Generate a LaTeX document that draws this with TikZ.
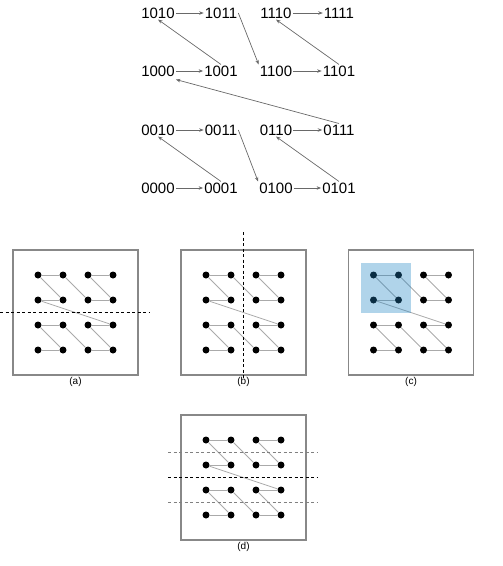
\documentclass[tikz,border=0pt]{standalone}
\usepackage{fontspec}
\setmainfont{Liberation Sans}
\usetikzlibrary{arrows.meta,positioning,calc}
\definecolor{frameg}{RGB}{136,136,136}
\definecolor{lineg}{RGB}{170,170,170}
\definecolor{arrg}{RGB}{105,105,105}
\definecolor{blk}{RGB}{29,131,194}

\tikzset{
  bits/.style={inner sep=1pt, font=\fontsize{15}{15}\selectfont},
  zarr/.style={draw=arrg, line width=0.7pt, -{Stealth[length=4.5pt,width=3.5pt]}},
  dot/.style={circle, fill=black, inner sep=0pt, minimum size=7pt},
  zline/.style={draw=lineg, line width=0.8pt},
  frame/.style={draw=frameg, line width=1.6pt, minimum size=125pt, inner sep=0pt},
  cut/.style={dash pattern=on 3pt off 2.5pt, line width=0.7pt},
  sub/.style={font=\fontsize{10}{10}\selectfont, inner sep=1pt}
}

% griglia z-order: #1 nome, (#2,#3) primo punto in alto a sinistra
\newcommand\zgrid[3]{
  \foreach \i in {0,...,15}{
    \pgfmathtruncatemacro\cc{mod(\i,2)+2*mod(floor(\i/4),2)}
    \pgfmathtruncatemacro\rr{3-mod(floor(\i/2),2)-2*floor(\i/8)}
    \node[dot] (#1-\i) at (#2+25*\cc,#3+25*\rr) {};
  }
  \foreach \i in {0,...,14}{
    \pgfmathtruncatemacro\j{\i+1}
    \draw[zline] (#1-\i) -- (#1-\j);
  }
}

\begin{document}
\begin{tikzpicture}[x=1pt,y=-1pt]
  \useasboundingbox (0,0) rectangle (503,566);
  % etichette binarie
  \foreach \lab/\x/\y in {1010/158/13, 1011/221/13, 1110/276/13, 1111/339/13,
                          1000/158/71, 1001/221/71, 1100/276/71, 1101/339/71,
                          0010/158/130, 0011/221/130, 0110/276/130, 0111/339/130,
                          0000/158/188, 0001/221/188, 0100/276/188, 0101/339/188}
    \node[bits] (n\lab) at (\x,\y) {\lab};
  % frecce orizzontali
  \foreach \a/\b in {1010/1011, 1110/1111, 1000/1001, 1100/1101,
                     0010/0011, 0110/0111, 0000/0001, 0100/0101}
    \draw[zarr] (n\a) -- (n\b);
  % frecce diagonali
  \draw[zarr] (n0001.north) -- (n0010.south);
  \draw[zarr] (n0011.east) -- (n0100.north west);
  \draw[zarr] (n0101.north) -- (n0110.south);
  \draw[zarr] (n0111.north) -- ($(n1000.south east)+(0,2)$);
  \draw[zarr] (n1001.north) -- (n1010.south);
  \draw[zarr] (n1011.east) -- (n1100.north west);
  \draw[zarr] (n1101.north) -- (n1110.south);

  % (a)
  \node[frame] (boxa) at (75.5,312.5) {};
  \zgrid{a}{38}{275}
  \draw[cut] (0,312.5) -- (149,312.5);
  \node[sub, below=0pt of boxa] {(a)};
  % (b)
  \node[frame] (boxb) at (243.5,312.5) {};
  \zgrid{b}{206}{275}
  \draw[cut] (243.5,232) -- (243.5,378);
  \node[sub, below=0pt of boxb] {(b)};
  % (c)
  \node[frame] (boxc) at (411,312.5) {};
  \zgrid{c}{373.5}{275}
  \fill[blk, opacity=0.35] ($(c-10)+(-12.5,-12.5)$) rectangle ($(c-9)+(12.5,12.5)$);
  \node[sub, below=0pt of boxc] {(c)};
  % (d)
  \node[frame] (boxd) at (243.5,477.5) {};
  \zgrid{d}{206}{440}
  \draw[cut, gray] (168,452.5) -- (317,452.5);
  \draw[cut] (168,477.5) -- (317,477.5);
  \draw[cut, gray] (168,502.5) -- (317,502.5);
  \node[sub, below=0pt of boxd] {(d)};
\end{tikzpicture}
\end{document}
